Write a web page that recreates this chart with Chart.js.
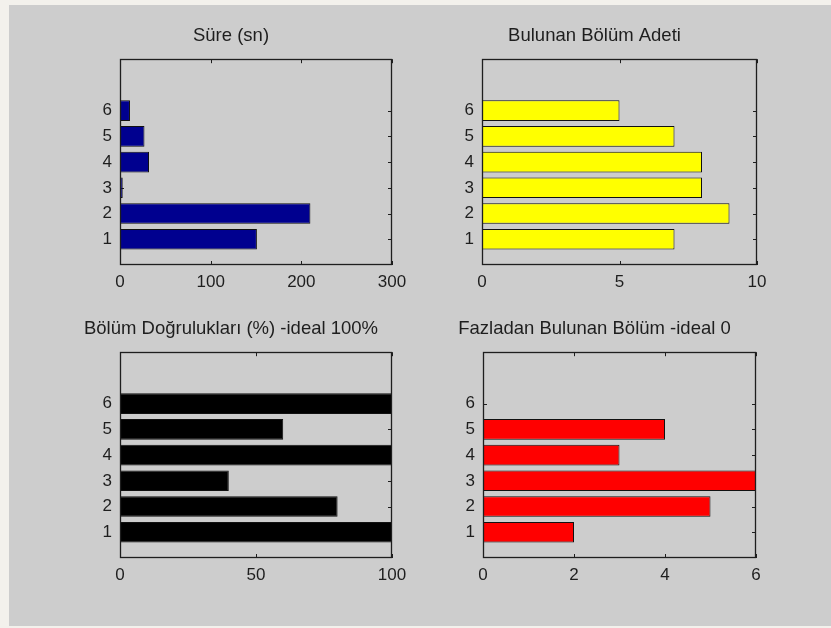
<!DOCTYPE html>
<html>
<head>
<meta charset="utf-8">
<script src="https://cdn.jsdelivr.net/npm/chart.js@4"></script>
<style>
  html, body { margin: 0; padding: 0; }
  body { width: 831px; height: 628px; background: #f3f1ec; position: relative; overflow: hidden; }
  #fig { position: absolute; left: 9px; top: 5px; width: 822px; height: 621px; background: #cdcdcd; }
  canvas { position: absolute; }
</style>
</head>
<body>
<div id="fig"></div>

<script>
// veriler
const categories = [1, 2, 3, 4, 5, 6];
const sureValues = [151, 210, 3, 32, 27, 11];
const bulunanValues = [7, 9, 8, 8, 7, 5];
const dogrulukValues = [100, 80, 40, 100, 60, 100];
const fazladanValues = [2, 5, 6, 3, 4, 0];

const titles = [
    "Süre (sn)",
    "Bulunan Bölüm Adeti",
    "Bölüm Doğrulukları (%) -ideal 100%",
    "Fazladan Bulunan Bölüm -ideal 0"
];
const xMaxes = [300, 10, 100, 6];
const xSteps = [100, 5, 50, 2];
const yMax = 8;

const TEXT = "#1e1e1e";
const FONT = "'Liberation Sans', Arial, sans-serif";

// kutu + iç tik işaretleri (matlab gibi)
const axesBox = {
    id: "axesBox",
    beforeDatasetsDraw(chart) {
        const ctx = chart.ctx;
        const a = chart.chartArea;
        const xs = chart.scales.x, ys = chart.scales.y;
        ctx.save();
        ctx.strokeStyle = TEXT;
        ctx.lineWidth = 1;
        ctx.beginPath();
        xs.ticks.forEach(t => {
            const px = Math.round(xs.getPixelForValue(t.value)) + 0.5;
            ctx.moveTo(px, a.bottom); ctx.lineTo(px, a.bottom - 4);
            ctx.moveTo(px, a.top); ctx.lineTo(px, a.top + 4);
        });
        categories.forEach(c => {
            const py = Math.round(ys.getPixelForValue(c)) + 0.5;
            ctx.moveTo(a.left, py); ctx.lineTo(a.left + 4, py);
            ctx.moveTo(a.right, py); ctx.lineTo(a.right - 4, py);
        });
        ctx.stroke();
        ctx.restore();
    },
    afterDatasetsDraw(chart) {
        const ctx = chart.ctx;
        const a = chart.chartArea;
        ctx.save();
        ctx.strokeStyle = TEXT;
        ctx.lineWidth = 1.3;
        ctx.strokeRect(Math.round(a.left) + 0.5, Math.round(a.top) + 0.5,
            Math.round(a.right - a.left) - 1, Math.round(a.bottom - a.top) - 1);
        ctx.restore();
    }
};

function makePanel(i, values, color, box) {
    const padL = 50, padT = 40, padR = 40, padB = 40;
    const cv = document.createElement("canvas");
    cv.width = box.w + padL + padR;
    cv.height = box.h + padT + padB;
    cv.style.left = (box.x - padL) + "px";
    cv.style.top = (box.y - padT) + "px";
    document.body.appendChild(cv);

    new Chart(cv, {
        type: "bar",
        data: {
            datasets: [{
                data: categories.map((c, k) => ({ y: c, x: values[k] })),
                backgroundColor: color,
                borderColor: "#111",
                borderWidth: 1,
                borderSkipped: false,
                barPercentage: 0.8,
                categoryPercentage: 1
            }]
        },
        options: {
            indexAxis: "y",
            responsive: false,
            animation: false,
            layout: { padding: { left: 0, right: padR, top: 0, bottom: 0 } },
            plugins: {
                legend: { display: false },
                tooltip: { enabled: false },
                title: {
                    display: true,
                    text: titles[i],
                    color: TEXT,
                    font: { family: FONT, size: 18.5, weight: "normal" },
                    padding: { top: 6, bottom: 12 }
                }
            },
            scales: {
                x: {
                    type: "linear",
                    min: 0,
                    max: xMaxes[i],
                    grid: { display: false, drawTicks: false },
                    border: { display: false },
                    ticks: {
                        stepSize: xSteps[i],
                        color: TEXT,
                        padding: 7,
                        maxRotation: 0,
                        font: { family: FONT, size: 17 }
                    },
                    afterFit: s => { s.height = padB; }
                },
                y: {
                    type: "linear",
                    min: 0,
                    max: yMax,
                    offset: false,
                    grid: { display: false, drawTicks: false },
                    border: { display: false },
                    ticks: {
                        stepSize: 1,
                        color: TEXT,
                        padding: 8,
                        font: { family: FONT, size: 17 },
                        callback: v => categories.includes(v) ? String(v) : ""
                    },
                    afterFit: s => { s.width = padL; }
                }
            }
        },
        plugins: [axesBox]
    });
}

makePanel(0, sureValues, "#00008f", { x: 120, y: 59, w: 272, h: 206 });
makePanel(1, bulunanValues, "#ffff00", { x: 482, y: 59, w: 275, h: 206 });
makePanel(2, dogrulukValues, "#000000", { x: 120, y: 352, w: 272, h: 206 });
makePanel(3, fazladanValues, "#ff0000", { x: 483, y: 352, w: 273, h: 206 });
</script>
</body>
</html>
